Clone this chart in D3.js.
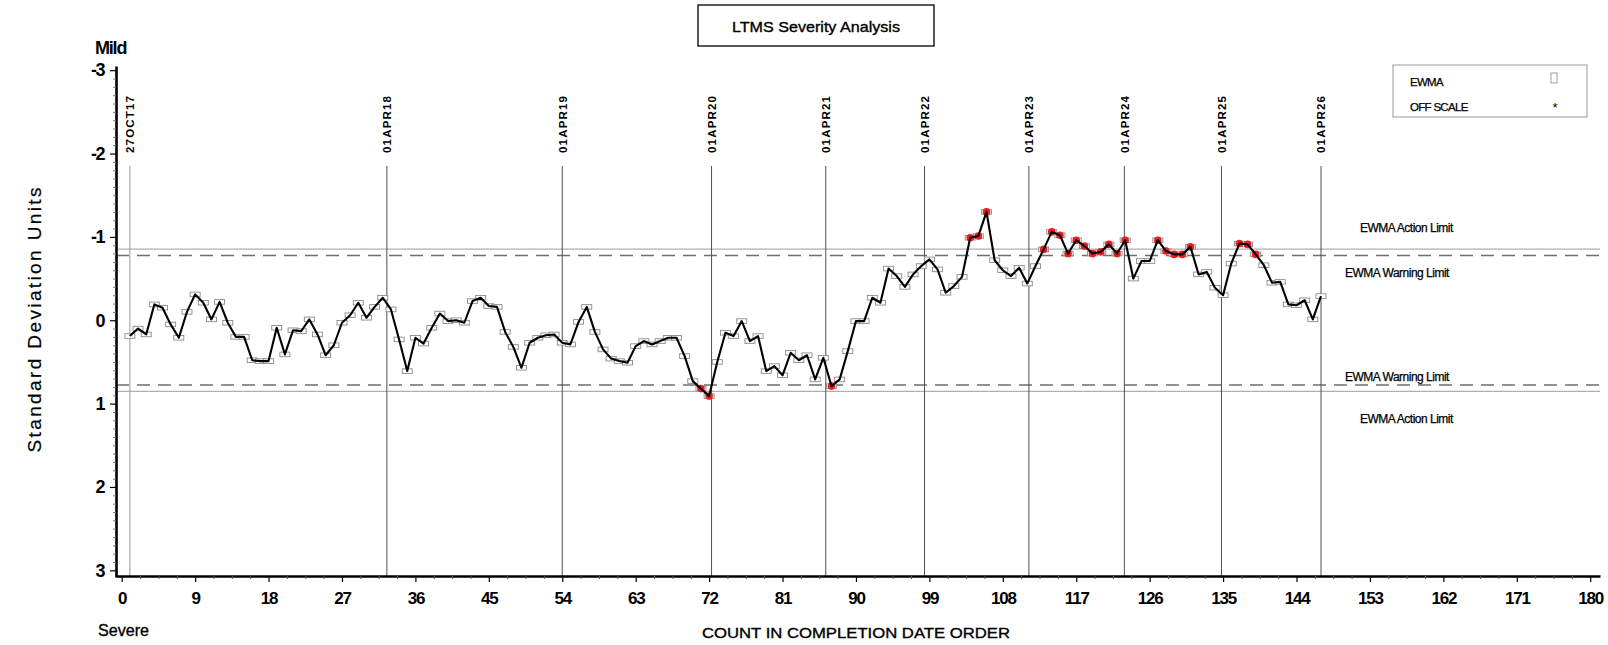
<!DOCTYPE html>
<html><head><meta charset="utf-8">
<script src="https://cdn.jsdelivr.net/npm/d3@7"></script>
<style>
body{margin:0;background:#fff}
text{font-family:"Liberation Sans",Arial,sans-serif;fill:#000}
.heavy{stroke:#000;stroke-width:0.35px}
</style>
</head><body>
<svg id="chart" width="1608" height="645"></svg>
<script>
// ---------------- data ----------------
const ewmaValues = [
  0.19, 0.10, 0.17,-0.19,-0.15, 0.05, 0.21,-0.10,-0.31,-0.21,
 -0.01,-0.22, 0.03, 0.20, 0.20, 0.48, 0.49, 0.49, 0.09, 0.41,
  0.12, 0.13,-0.01, 0.17, 0.42, 0.30, 0.03,-0.06,-0.21,-0.03,
 -0.16,-0.27,-0.13, 0.23, 0.61, 0.21, 0.28, 0.09,-0.08, 0.01,
  0.00, 0.03,-0.23,-0.27,-0.17,-0.16, 0.14, 0.32, 0.57, 0.27,
  0.21, 0.18, 0.17, 0.27, 0.29, 0.02,-0.16, 0.14, 0.35, 0.46,
  0.49, 0.51, 0.31, 0.25, 0.29, 0.25, 0.21, 0.21, 0.43, 0.73,
  0.82, 0.91, 0.50, 0.15, 0.19, 0.01, 0.25, 0.19, 0.61, 0.55,
  0.66, 0.39, 0.48, 0.42, 0.71, 0.45, 0.79, 0.71, 0.37, 0.01,
  0.01,-0.27,-0.21,-0.62,-0.53,-0.40,-0.55,-0.65,-0.73,-0.61,
 -0.33,-0.41,-0.52,-0.99,-1.01,-1.30,-0.72,-0.60,-0.53,-0.63,
 -0.44,-0.65,-0.85,-1.06,-1.02,-0.80,-0.96,-0.89,-0.80,-0.82,
 -0.91,-0.80,-0.96,-0.50,-0.71,-0.71,-0.96,-0.83,-0.79,-0.79,
 -0.88,-0.55,-0.58,-0.39,-0.30,-0.68,-0.92,-0.91,-0.79,-0.66,
 -0.45,-0.46,-0.19,-0.18,-0.24,-0.01,-0.29
];
const counts = d3.range(1, ewmaValues.length + 1);

const dateLabels    = ["27OCT17","01APR18","01APR19","01APR20","01APR21","01APR22","01APR23","01APR24","01APR25","01APR26"];
const datePositions = [1, 32.5, 54, 72.3, 86.3, 98.4, 111.2, 122.9, 134.8, 147];

const xTickValues = d3.range(0, 181, 9);
const xMinorTicks = d3.range(0, 181, 2.25).filter(v => v % 9 !== 0);
const yTickValues = [-3, -2, -1, 0, 1, 2, 3];
const yMinorTicks = d3.range(-30, 31).map(v => v / 10).filter(v => !Number.isInteger(v));

const limitNames  = ["EWMA Action Limit", "EWMA Warning Limit", "EWMA Warning Limit", "EWMA Action Limit"];
const limitValues = [-0.853, -0.776, 0.776, 0.853];
const limitKinds  = ["action", "warning", "warning", "action"];

const legendLabels = ["EWMA", "OFF SCALE"];

// ---------------- layout ----------------
const svg = d3.select("#chart");
svg.append("rect").attr("width",1608).attr("height",645).attr("fill","#fff");

const x = d3.scaleLinear().domain([-0.7, 181.2]).range([116, 1600]);
const y = d3.scaleLinear().domain([-3.05, 3.08]).range([66, 577]);
const xAxisY = 576, yAxisX = 116;

// title box
svg.append("rect").attr("x",698).attr("y",5).attr("width",236).attr("height",41)
  .attr("fill","#fff").attr("stroke","#000").attr("stroke-width",1.3);
svg.append("text").attr("class","heavy").attr("x",816).attr("y",32).attr("text-anchor","middle")
  .attr("font-size",15).attr("textLength",168).attr("lengthAdjust","spacingAndGlyphs")
  .text("LTMS Severity Analysis");

// limit lines
const limG = svg.append("g");
limitValues.forEach((v,i) => {
  const isAction = limitKinds[i] === "action";
  limG.append("line").attr("x1",yAxisX).attr("x2",1600)
    .attr("y1",y(v)).attr("y2",y(v))
    .attr("stroke", isAction ? "#b0b0b0" : "#6e6e6e")
    .attr("stroke-width", isAction ? 1.3 : 1.5)
    .attr("stroke-dasharray", isAction ? null : "13,8");
});
const limitLabelOffsets = [-17, 21, -4, 32];
const limitLabelX = [1360, 1345, 1345, 1360];
limitValues.forEach((v,i) => {
  limG.append("text").attr("class","heavy").style("stroke-width","0.25px")
    .attr("x",limitLabelX[i]).attr("y",y(v)+limitLabelOffsets[i])
    .attr("font-size",12).attr("letter-spacing",-0.5).text(limitNames[i]);
});

// date reference lines
const dateG = svg.append("g");
datePositions.forEach((p,i) => {
  dateG.append("line").attr("x1",x(p)).attr("x2",x(p)).attr("y1",166).attr("y2",xAxisY)
    .attr("stroke", i === 0 ? "#9a9a9a" : "#505050").attr("stroke-width",1);
  dateG.append("text")
    .attr("transform",`translate(${x(p)+4.5},153) rotate(-90)`)
    .attr("font-size",11.5).attr("font-weight","bold")
    .attr("textLength",57).attr("lengthAdjust","spacing")
    .text(dateLabels[i]);
});

// axes
const xAxis = svg.append("g").attr("transform",`translate(0,${xAxisY})`)
  .call(d3.axisBottom(x).tickValues(xTickValues).tickSize(6).tickSizeOuter(0).tickPadding(10));
xAxis.select(".domain").attr("stroke-width",2.6);
xAxis.selectAll(".tick line").attr("stroke-width",1.2);
xAxis.selectAll(".tick text").attr("font-size",17).attr("font-weight","bold")
  .attr("letter-spacing",-1.2).attr("font-family","Liberation Sans, Arial, sans-serif");
svg.append("g").attr("transform",`translate(0,${xAxisY})`)
  .call(d3.axisBottom(x).tickValues(xMinorTicks).tickSize(3).tickFormat(""))
  .call(g => g.select(".domain").remove())
  .selectAll(".tick line").attr("stroke","#555");

const yAxis = svg.append("g").attr("transform",`translate(${yAxisX},0)`)
  .call(d3.axisLeft(y).tickValues(yTickValues).tickSize(6).tickSizeOuter(0).tickPadding(6)
        .tickFormat(d => d < 0 ? "-" + Math.abs(d) : String(d)));
yAxis.select(".domain").attr("stroke-width",2.6);
yAxis.selectAll(".tick line").attr("stroke-width",1.2);
yAxis.selectAll(".tick text").attr("font-size",18).attr("font-weight","bold")
  .attr("letter-spacing",-1.5).attr("font-family","Liberation Sans, Arial, sans-serif");
svg.append("g").attr("transform",`translate(${yAxisX},0)`)
  .call(d3.axisLeft(y).tickValues(yMinorTicks).tickSize(3).tickFormat(""))
  .call(g => g.select(".domain").remove())
  .selectAll(".tick line").attr("stroke","#777");

// axis titles
svg.append("text").attr("x",95).attr("y",54).attr("font-size",18).attr("font-weight","bold")
  .attr("letter-spacing",-1.2).text("Mild");
svg.append("text").attr("class","heavy").attr("x",98).attr("y",636).attr("font-size",17)
  .attr("textLength",51).attr("lengthAdjust","spacingAndGlyphs").text("Severe");
svg.append("text").attr("class","heavy").attr("x",856).attr("y",638).attr("text-anchor","middle").attr("font-size",15)
  .attr("textLength",308).attr("lengthAdjust","spacingAndGlyphs")
  .text("COUNT IN COMPLETION DATE ORDER");
svg.append("text").attr("class","heavy").style("stroke-width","0.2px")
  .attr("transform","translate(41,320) rotate(-90)").attr("text-anchor","middle")
  .attr("font-size",19).attr("textLength",265).attr("lengthAdjust","spacing")
  .text("Standard Deviation Units");

// data
const pts = counts.map((c,i) => ({c, v: ewmaValues[i]}));
const plotG = svg.append("g");
plotG.selectAll("rect.m").data(pts).join("rect").attr("class","m")
  .attr("x", d => x(d.c) - 5).attr("y", d => y(d.v) - 2.3)
  .attr("width",10).attr("height",4.6)
  .attr("fill","#fff").attr("stroke","#8a8a8a").attr("stroke-width",0.9);
plotG.selectAll("circle.out").data(pts.filter(d => Math.abs(d.v) > limitValues[2]))
  .join("circle").attr("class","out")
  .attr("cx", d => x(d.c)).attr("cy", d => y(d.v)).attr("r",3.8)
  .attr("fill","#ee1c1c");
plotG.append("path").datum(pts)
  .attr("d", d3.line().x(d => x(d.c)).y(d => y(d.v)))
  .attr("fill","none").attr("stroke","#000").attr("stroke-width",2.1).attr("stroke-linejoin","round");

// legend
svg.append("rect").attr("x",1393).attr("y",65).attr("width",194).attr("height",52)
  .attr("fill","#fff").attr("stroke","#999").attr("stroke-width",1);
svg.append("text").attr("class","heavy").style("stroke-width","0.25px")
  .attr("x",1410).attr("y",86).attr("font-size",11.5).attr("letter-spacing",-0.7).text(legendLabels[0]);
svg.append("text").attr("class","heavy").style("stroke-width","0.25px")
  .attr("x",1410).attr("y",111).attr("font-size",11.5).attr("letter-spacing",-0.7).text(legendLabels[1]);
svg.append("rect").attr("x",1551).attr("y",73).attr("width",6).attr("height",10)
  .attr("fill","#fff").attr("stroke","#888").attr("stroke-width",0.8);
svg.append("text").attr("x",1555).attr("y",112).attr("text-anchor","middle").attr("font-size",13).attr("fill","#444").text("*");
</script>
</body></html>
